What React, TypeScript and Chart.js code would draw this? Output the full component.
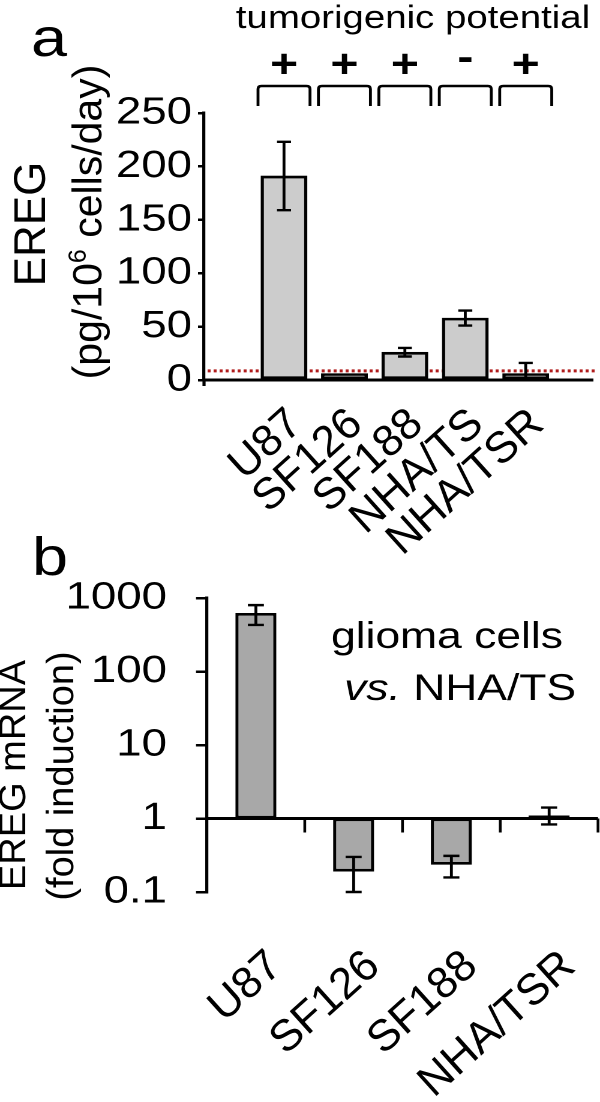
import React, { useEffect, useRef } from "react";
import { Chart, registerables } from "chart.js";

Chart.register(...registerables);

const FONT = "'Liberation Sans', Arial, sans-serif";
// the source figure is horizontally stretched; draw in logical space and stretch the canvas
const S = 1.2;
const LW = Math.round(600 / S);
const X = (v: number) => v / S;
const LABEL_ANGLE = (-42 * Math.PI) / 180;

// ---------- Panel a ----------
const categoriesA = ["U87", "SF126", "SF188", "NHA/TS", "NHA/TSR"];
const valuesA = [191, 6, 26, 58, 6];
const errLowA = [159, 6, 22, 51, 0];
const errHighA = [223, 6, 30, 65, 16];
const tumorigenicA = ["+", "+", "+", "-", "+"];
const detectionLimitA = 8.5;
const yTicksA = [0, 50, 100, 150, 200, 250];

// ---------- Panel b ----------
const categoriesB = ["U87", "SF126", "SF188", "NHA/TSR"];
const valuesB = [625, 0.19, 0.235, 1.1];
const errLowB = [430, 0.1, 0.158, 0.83];
const errHighB = [800, 0.3, 0.31, 1.41];
const yTicksB = [0.1, 1, 10, 100, 1000];
const yTickLabelsB = ["0.1", "1", "10", "100", "1000"];
const baselineB = 1;

function rotatedText(ctx: any, text: string, x: number, y: number, angle: number, font: string, align: any = "center", baseline: any = "middle", unstretch = false) {
  ctx.save();
  ctx.translate(x, y);
  if (unstretch) ctx.scale(1 / S, 1);
  ctx.rotate(angle);
  ctx.font = font;
  ctx.fillStyle = "#000";
  ctx.textAlign = align;
  ctx.textBaseline = baseline;
  ctx.fillText(text, 0, 0);
  ctx.restore();
}

function drawErrorBars(chart: any, lows: number[], highs: number[], capHalf: number) {
  const ctx = chart.ctx;
  const xs = chart.scales.x;
  const ys = chart.scales.y;
  ctx.save();
  ctx.strokeStyle = "#000";
  ctx.lineWidth = 2.4;
  ctx.setLineDash([]);
  lows.forEach((lo, i) => {
    const hi = highs[i];
    if (hi === lo) return;
    const x = xs.getPixelForValue(i);
    const y1 = ys.getPixelForValue(lo);
    const y2 = ys.getPixelForValue(hi);
    ctx.beginPath();
    ctx.moveTo(x, y1);
    ctx.lineTo(x, y2);
    ctx.moveTo(x - capHalf, y1);
    ctx.lineTo(x + capHalf, y1);
    ctx.moveTo(x - capHalf, y2);
    ctx.lineTo(x + capHalf, y2);
    ctx.stroke();
  });
  ctx.restore();
}

const plugA = {
  id: "decorA",
  beforeDatasetsDraw(chart: any) {
    const ctx = chart.ctx;
    const ys = chart.scales.y;
    const { left, right } = chart.chartArea;
    const y = ys.getPixelForValue(detectionLimitA);
    ctx.save();
    ctx.strokeStyle = "#b01c1c";
    ctx.lineWidth = 3;
    ctx.setLineDash([2.5, 2.5]);
    ctx.beginPath();
    ctx.moveTo(left + 3, y);
    ctx.lineTo(right + 3, y);
    ctx.stroke();
    ctx.restore();
  },
  afterDraw(chart: any) {
    const ctx = chart.ctx;
    const xs = chart.scales.x;
    const { left, bottom } = chart.chartArea;
    drawErrorBars(chart, errLowA, errHighA, X(7));

    ctx.save();
    ctx.strokeStyle = "#000";
    ctx.lineWidth = 2.6;
    ctx.beginPath();
    ctx.moveTo(left, bottom);
    ctx.lineTo(left, bottom + 6);
    ctx.stroke();

    ctx.fillStyle = "#000";
    ctx.font = `54px ${FONT}`;
    ctx.textAlign = "left";
    ctx.textBaseline = "alphabetic";
    ctx.fillText("a", X(31), 56);

    ctx.font = `32px ${FONT}`;
    ctx.textAlign = "center";
    ctx.fillText("tumorigenic potential", X(413), 28);

    ctx.lineWidth = 2.4;
    tumorigenicA.forEach((s, i) => {
      const cx = xs.getPixelForValue(i);
      ctx.font = `bold 40px ${FONT}`;
      ctx.textAlign = "center";
      ctx.textBaseline = "alphabetic";
      ctx.fillText(s, cx, s === "-" ? 70 : 77);
      const hw = X(26), top = 86, bot = 106, r = 3;
      ctx.beginPath();
      ctx.moveTo(cx - hw, bot);
      ctx.lineTo(cx - hw, top + r);
      ctx.quadraticCurveTo(cx - hw, top, cx - hw + r, top);
      ctx.lineTo(cx + hw - r, top);
      ctx.quadraticCurveTo(cx + hw, top, cx + hw, top + r);
      ctx.lineTo(cx + hw, bot);
      ctx.stroke();
    });
    ctx.restore();

    categoriesA.forEach((c, i) => {
      const cx = xs.getPixelForValue(i);
      rotatedText(ctx, c, cx + X(12), 418, LABEL_ANGLE, `44px ${FONT}`, "right", "middle", true);
    });

    rotatedText(ctx, "EREG", X(33), 224, -Math.PI / 2, `44px ${FONT}`, "center", "middle", true);
    ctx.save();
    ctx.translate(X(87), 222);
    ctx.scale(1 / S, 1);
    ctx.rotate(-Math.PI / 2);
    ctx.fillStyle = "#000";
    ctx.textBaseline = "alphabetic";
    ctx.textAlign = "left";
    const F = 41;
    const p1 = "(pg/10", p2 = "6", p3 = " cells/day)";
    ctx.font = `${F}px ${FONT}`;
    const w1 = ctx.measureText(p1).width;
    const w3 = ctx.measureText(p3).width;
    ctx.font = `${Math.round(F * 0.62)}px ${FONT}`;
    const w2 = ctx.measureText(p2).width;
    const total = w1 + w2 + w3;
    let sx = -total / 2;
    const base = F * 0.35;
    ctx.font = `${F}px ${FONT}`;
    ctx.fillText(p1, sx, base);
    sx += w1;
    ctx.font = `${Math.round(F * 0.62)}px ${FONT}`;
    ctx.fillText(p2, sx, base - F * 0.38);
    sx += w2;
    ctx.font = `${F}px ${FONT}`;
    ctx.fillText(p3, sx, base);
    ctx.restore();
  },
};

const plugB = {
  id: "decorB",
  afterDraw(chart: any) {
    const ctx = chart.ctx;
    const xs = chart.scales.x;
    const ys = chart.scales.y;
    const { left, right } = chart.chartArea;
    const y1 = ys.getPixelForValue(baselineB);
    ctx.save();
    ctx.strokeStyle = "#000";
    ctx.lineWidth = 3;
    ctx.beginPath();
    ctx.moveTo(left, y1);
    ctx.lineTo(right, y1);
    ctx.stroke();
    const n = categoriesB.length;
    const step = (right - left) / n;
    ctx.lineWidth = 2.3;
    for (let i = 0; i < n; i++) {
      const bx = xs.getPixelForValue(i) + step / 2;
      ctx.beginPath();
      ctx.moveTo(bx, y1);
      ctx.lineTo(bx, y1 + 14);
      ctx.stroke();
    }
    ctx.restore();

    drawErrorBars(chart, errLowB, errHighB, X(8));

    ctx.save();
    ctx.fillStyle = "#000";
    ctx.font = `54px ${FONT}`;
    ctx.textAlign = "left";
    ctx.textBaseline = "alphabetic";
    ctx.fillText("b", X(32), 575);

    ctx.font = `37px ${FONT}`;
    ctx.fillText("glioma cells", X(331), 648);
    ctx.font = `italic 37px ${FONT}`;
    const wv = ctx.measureText("vs.").width;
    ctx.font = `37px ${FONT}`;
    const wn = ctx.measureText(" NHA/TS").width;
    const start = X(576) - wv - wn;
    ctx.font = `italic 37px ${FONT}`;
    ctx.fillText("vs.", start, 700);
    ctx.font = `37px ${FONT}`;
    ctx.fillText(" NHA/TS", start + wv, 700);
    ctx.restore();

    categoriesB.forEach((c, i) => {
      const cx = xs.getPixelForValue(i);
      rotatedText(ctx, c, cx + X(20), 960, LABEL_ANGLE, `44px ${FONT}`, "right", "middle", true);
    });

    rotatedText(ctx, "EREG mRNA", X(15), 775, -Math.PI / 2, `38px ${FONT}`, "center", "middle", true);
    rotatedText(ctx, "(fold induction)", X(63), 776, -Math.PI / 2, `38px ${FONT}`, "center", "middle", true);
  },
};

export default function App() {
  const refA = useRef<HTMLCanvasElement>(null);
  const refB = useRef<HTMLCanvasElement>(null);

  useEffect(() => {
    const chartA = new Chart(refA.current as HTMLCanvasElement, {
      type: "bar",
      data: {
        datasets: [
          {
            data: valuesA.map((v, i) => ({ x: i, y: v })),
            backgroundColor: "#cccccc",
            borderColor: "#000",
            borderWidth: 2.7,
            borderSkipped: false,
            barThickness: X(46),
          } as any,
        ],
      },
      options: {
        responsive: false,
        animation: false,
        devicePixelRatio: 2,
        events: [],
        layout: { padding: { left: 0, top: 113, right: LW - X(593), bottom: 722 } },
        plugins: { legend: { display: false }, tooltip: { enabled: false } },
        scales: {
          x: {
            type: "linear",
            min: -0.68,
            max: 4.47,
            grid: { display: false },
            ticks: { display: false },
            border: { display: true, color: "#000", width: 3 },
            afterFit: (s: any) => {
              s.height = 0;
            },
          },
          y: {
            type: "linear",
            min: 0,
            max: 250,
            afterBuildTicks: (s: any) => {
              s.ticks = yTicksA.map((v) => ({ value: v }));
            },
            ticks: { color: "#000", font: { family: FONT, size: 38 }, padding: 5 },
            grid: { drawOnChartArea: false, drawTicks: true, tickLength: 5, color: "#000", lineWidth: 2.5 },
            border: { display: true, color: "#000", width: 2.6 },
            afterFit: (s: any) => {
              s.width = X(204);
            },
          },
        },
      } as any,
      plugins: [plugA],
    });

    const chartB = new Chart(refB.current as HTMLCanvasElement, {
      type: "bar",
      data: {
        labels: categoriesB,
        datasets: [
          {
            data: valuesB.map((v) => [baselineB, v]),
            backgroundColor: "#a8a8a8",
            borderColor: "#000",
            borderWidth: 2.7,
            borderSkipped: false,
            barPercentage: 0.42,
            categoryPercentage: 1,
          } as any,
        ],
      },
      options: {
        responsive: false,
        animation: false,
        devicePixelRatio: 2,
        events: [],
        layout: { padding: { left: 0, top: 598, right: LW - X(598), bottom: 210 } },
        plugins: { legend: { display: false }, tooltip: { enabled: false } },
        scales: {
          x: {
            type: "category",
            offset: true,
            grid: { display: false },
            ticks: { display: false },
            border: { display: false },
            afterFit: (s: any) => {
              s.height = 0;
            },
          },
          y: {
            type: "logarithmic",
            min: 0.1,
            max: 1000,
            afterBuildTicks: (s: any) => {
              s.ticks = yTicksB.map((v) => ({ value: v }));
            },
            ticks: {
              color: "#000",
              font: { family: FONT, size: 38 },
              padding: X(29),
              callback: (v: any) => {
                const k = yTicksB.indexOf(Number(v));
                return k >= 0 ? yTickLabelsB[k] : "";
              },
            },
            grid: { drawOnChartArea: false, drawTicks: true, tickLength: X(11), color: "#000", lineWidth: 2.5 },
            border: { display: true, color: "#000", width: 2.6 },
            afterFit: (s: any) => {
              s.width = X(207);
            },
          },
        },
      } as any,
      plugins: [plugB],
    });

    return () => {
      chartA.destroy();
      chartB.destroy();
    };
  }, []);

  const cStyle: any = {
    position: "absolute",
    left: 0,
    top: 0,
    width: LW,
    height: 1102,
    transform: `scaleX(${S})`,
    transformOrigin: "0 0",
  };
  return (
    <div style={{ position: "absolute", left: 0, top: 0, width: 600, height: 1102, background: "#fff", overflow: "hidden" }}>
      <canvas ref={refA} width={LW} height={1102} style={cStyle} />
      <canvas ref={refB} width={LW} height={1102} style={cStyle} />
    </div>
  );
}
